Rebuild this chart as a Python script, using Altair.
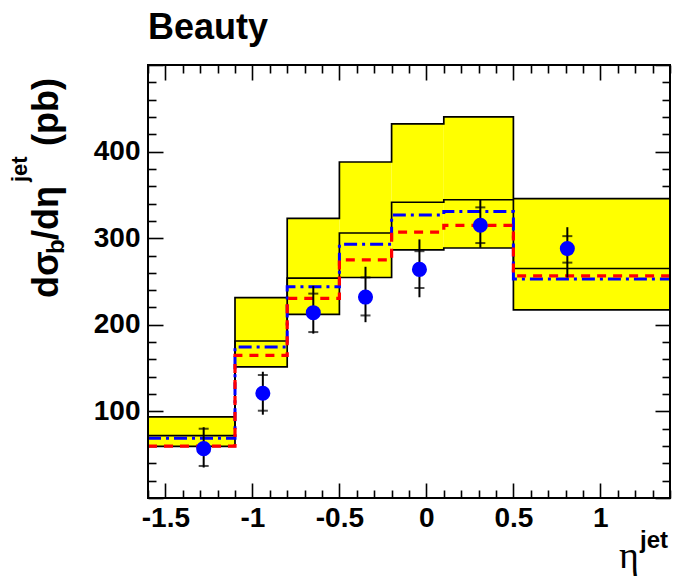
import altair as alt
import pandas as pd

# ---------------- data ----------------
# histogram bins in eta^jet
edges_lo = [-1.6, -1.1, -0.8, -0.5, -0.2, 0.1, 0.5]
edges_hi = [-1.1, -0.8, -0.5, -0.2, 0.1, 0.5, 1.4]
# NLO band (lower edge, central, upper edge)
band_lo = [59.6, 151.5, 212.0, 254.6, 286.5, 288.7, 217.3]
band_mid = [72.0, 181.3, 254.0, 306.0, 341.5, 344.4, 265.0]
band_hi = [93.6, 231.4, 323.0, 388.0, 432.0, 440.0, 345.6]
# MC predictions
mc_blue = [69.0, 174.5, 244.0, 292.9, 326.7, 330.7, 252.8]
mc_red = [60.0, 164.6, 230.6, 275.0, 307.0, 314.7, 256.6]

# data points
eta = [-1.28, -0.94, -0.65, -0.35, -0.04, 0.31, 0.81]
xsec = [57, 121, 214, 232, 264, 315, 288]
tot_hi = [81.7, 145.8, 245.0, 267.0, 298.6, 345.0, 312.7]
tot_lo = [35.2, 96.2, 189.8, 203.0, 231.8, 289.0, 254.6]
stat_hi = [80.0, 142.0, 236.0, 254.7, 285.0, 335.6, 302.4]
stat_lo = [37.0, 100.8, 191.6, 210.8, 242.5, 294.4, 271.8]

# axis labels / ticks
x_major = [-1.5, -1, -0.5, 0, 0.5, 1]
y_major = [100, 200, 300, 400]
x_ticks = [round(-1.6 + 0.1 * i, 1) for i in range(31)]
y_ticks = [20 * i for i in range(26)]

# ---------------- layout ----------------
W, H = 522, 433
PL, PT = 148, 65
FONT = "Liberation Sans"

xs = alt.Scale(domain=[-1.6, 1.4], nice=False, zero=False)
ys = alt.Scale(domain=[0, 500], nice=False, zero=False)

x_tick_size = {"condition": {"test": "abs(datum.value*2 - round(datum.value*2)) < 0.001", "value": 15}, "value": 8}
y_tick_size = {"condition": {"test": "datum.value % 100 === 0", "value": 15}, "value": 8}

x_label_axis = alt.Axis(orient="bottom", values=x_major, ticks=False, domain=False, grid=False, title=None,
                        labelFont=FONT, labelFontSize=28, labelFontWeight="bold", labelColor="black",
                        labelPadding=6, labelFlush=False, labelOverlap=False,
                        labelExpr="(datum.value < 0 ? '-' : '') + format(abs(datum.value), '~g')")
y_label_axis = alt.Axis(orient="left", values=y_major, ticks=False, domain=False, grid=False, title=None,
                        labelFont=FONT, labelFontSize=28, labelFontWeight="bold", labelColor="black",
                        labelPadding=8, labelFlush=False, labelOverlap=False)

def tick_axis(orient, offset, values, size):
    return alt.Axis(orient=orient, offset=offset, values=values, ticks=True, tickSize=size,
                    tickWidth=1.6, tickColor="black", labels=False, domain=False, grid=False, title=None)

x_ticks_bottom = tick_axis("top", -H, x_ticks, x_tick_size)
x_ticks_top = tick_axis("bottom", -H, x_ticks, x_tick_size)
y_ticks_left = tick_axis("right", -W, y_ticks, y_tick_size)
y_ticks_right = tick_axis("left", -W, y_ticks, y_tick_size)

# ---------------- layers ----------------
bins = pd.DataFrame({"lo": edges_lo, "hi": edges_hi, "blo": band_lo, "bhi": band_hi})
band = alt.Chart(bins).mark_rect(color="#ffff00").encode(
    x=alt.X("lo:Q", scale=xs, axis=x_label_axis), x2="hi:Q",
    y=alt.Y("blo:Q", scale=ys, axis=y_label_axis), y2="bhi:Q")


def step_layer(vals, color, width, dash=None, xaxis=None, yaxis=None):
    df = pd.DataFrame({"x": edges_lo + [edges_hi[-1]], "y": vals + [vals[-1]]})
    kw = dict(color=color, strokeWidth=width, interpolate="step-after")
    if dash:
        kw["strokeDash"] = dash
    return alt.Chart(df).mark_line(**kw).encode(
        x=alt.X("x:Q", scale=xs, axis=xaxis), y=alt.Y("y:Q", scale=ys, axis=yaxis))


line_lo = step_layer(band_lo, "black", 1.7, xaxis=x_ticks_bottom, yaxis=y_ticks_left)
line_mid = step_layer(band_mid, "black", 1.7)
line_hi = step_layer(band_hi, "black", 1.7, xaxis=x_ticks_top, yaxis=y_ticks_right)
line_blue = step_layer(mc_blue, "#0000ff", 3, dash=[13, 5, 3, 5])
line_red = step_layer(mc_red, "#ff0000", 3.2, dash=[9, 7])

pts = pd.DataFrame({"eta": eta, "xsec": xsec, "tlo": tot_lo, "thi": tot_hi, "slo": stat_lo, "shi": stat_hi})
err = alt.Chart(pts).mark_rule(color="black", strokeWidth=2).encode(
    x=alt.X("eta:Q", scale=xs, axis=None), y=alt.Y("tlo:Q", scale=ys, axis=None), y2="thi:Q")
tick_hi = alt.Chart(pts).mark_tick(color="black", orient="horizontal", size=10, thickness=2).encode(
    x=alt.X("eta:Q", scale=xs, axis=None), y=alt.Y("shi:Q", scale=ys, axis=None))
tick_lo = alt.Chart(pts).mark_tick(color="black", orient="horizontal", size=10, thickness=2).encode(
    x=alt.X("eta:Q", scale=xs, axis=None), y=alt.Y("slo:Q", scale=ys, axis=None))
markers = alt.Chart(pts).mark_circle(size=227, color="#0000ff", opacity=1).encode(
    x=alt.X("eta:Q", scale=xs, axis=None), y=alt.Y("xsec:Q", scale=ys, axis=None))

frame = alt.Chart(pd.DataFrame({"f": [0]})).mark_rect(fill=None, stroke="black", strokeWidth=2).encode(
    x=alt.value(0), x2=alt.value(W), y=alt.value(0), y2=alt.value(H))


def text_layer(txt, px, py, size, weight="bold", font=FONT, angle=0, align="left"):
    kw = dict(font=font, fontSize=size, fontWeight=weight, align=align, baseline="alphabetic", color="black")
    if angle:
        kw["angle"] = angle
    return alt.Chart(pd.DataFrame({"t": [txt]})).mark_text(**kw).encode(
        x=alt.value(px - PL), y=alt.value(py - PT), text="t:N")


texts = [
    text_layer("Beauty", 148, 39, 36),
    # y-axis title: d sigma_b / d eta^jet (pb)
    text_layer("d\u03c3", 58, 298, 36, angle=270),
    text_layer("b", 64, 254, 24, angle=270),
    text_layer("/d\u03b7", 58, 240, 36, angle=270),
    text_layer("jet", 27, 182, 22, angle=270),
    text_layer("(pb)", 58, 146, 36, angle=270),
    # x-axis title: eta^jet
    text_layer("\u03b7", 619, 568, 38, weight="normal", font="Liberation Serif"),
    text_layer("jet", 640, 548, 24),
]

chart = alt.layer(
    band, line_lo, line_mid, line_hi, line_blue, line_red, err, tick_hi, tick_lo, markers, frame, *texts
).resolve_axis(x="independent", y="independent").properties(
    width=W, height=H,
    padding={"left": PL, "top": PT, "right": 677 - PL - W, "bottom": 580 - PT - H},
    autosize=alt.AutoSizeParams(type="none"),
    background="white",
).configure_view(stroke=None)

chart.save("out.html", embed_options={"renderer": "svg", "actions": False})
